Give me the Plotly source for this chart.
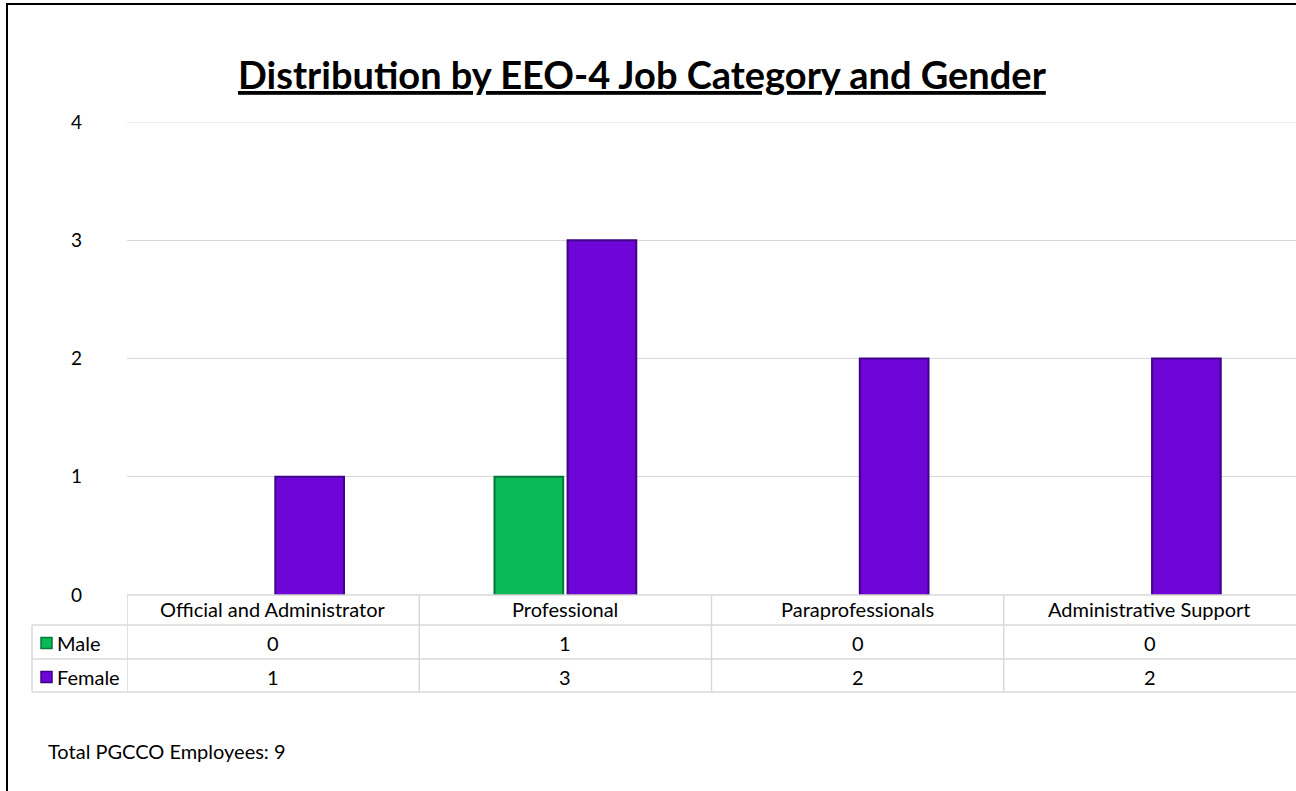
import plotly.graph_objects as go

# Data
categories = ["Official and Administrator", "Professional", "Paraprofessionals", "Administrative Support"]
male = [0, 1, 0, 0]
female = [1, 3, 2, 2]
series_names = ["Male", "Female"]
y_ticks = [0, 1, 2, 3, 4]
total_employees = 9

W, H = 1296, 791
L, R, T, B = 127, 0, 122, 196
plot_w = W - L - R
plot_h = H - T - B

GREEN = "#0bb957"
GREEN_EDGE = "#06773a"
PURPLE = "#6f06d8"
PURPLE_EDGE = "#3f0388"
GRID = "#d9d9d9"
FONT = "Lato"
TXT = 20


def px_x(px):
    return (px - L) / plot_w


def px_y(py):
    return (H - B - py) / plot_h


def edge_widths(values):
    # no outline on empty bars so nothing shows on the baseline
    return [2 if v else 0 for v in values]


x_idx = list(range(len(categories)))

fig = go.Figure()
fig.add_trace(go.Bar(x=x_idx, y=male, name=series_names[0],
                     marker=dict(color=GREEN, line=dict(color=GREEN_EDGE, width=edge_widths(male)))))
fig.add_trace(go.Bar(x=x_idx, y=female, name=series_names[1],
                     marker=dict(color=PURPLE, line=dict(color=PURPLE_EDGE, width=edge_widths(female)))))

fig.update_layout(
    width=W, height=H,
    margin=dict(l=L, r=R, t=T, b=B, pad=0),
    paper_bgcolor="white", plot_bgcolor="white",
    barmode="group", bargap=0.5, bargroupgap=0.06,
    showlegend=False,
    font=dict(family=FONT, size=TXT, color="#000000"),
)
fig.update_xaxes(range=[-0.5, len(categories) - 0.5], showticklabels=False, showgrid=False,
                 zeroline=False, showline=False, ticks="")
fig.update_yaxes(range=[y_ticks[0], y_ticks[-1]], tickvals=y_ticks, showgrid=True, gridcolor=GRID,
                 gridwidth=1, zeroline=False, showline=False, ticks="", ticklabelstandoff=44,
                 tickfont=dict(family=FONT, size=19, color="#000000"))

shapes = []
annotations = []

# top gridline at the axis maximum
shapes.append(dict(type="line", xref="paper", yref="y", x0=0, x1=1, y0=y_ticks[-1], y1=y_ticks[-1],
                   line=dict(color=GRID, width=1), layer="below"))


def cell_text(x, xref, py, text, xanchor="center"):
    annotations.append(dict(x=x, y=px_y(py), xref=xref, yref="paper", text=text,
                            xanchor=xanchor, yanchor="middle", showarrow=False,
                            font=dict(family=FONT, size=TXT, color="#000000")))


# Data table grid
y_header_top, y_male_top, y_female_top, y_bottom = 595, 625, 659, 692
line_style = dict(color=GRID, width=1.5)
shapes.append(dict(type="line", xref="paper", yref="paper", x0=px_x(127), x1=1.0,
                   y0=px_y(y_header_top), y1=px_y(y_header_top), line=line_style))
for py in (y_male_top, y_female_top, y_bottom):
    shapes.append(dict(type="line", xref="paper", yref="paper", x0=px_x(32), x1=1.0,
                       y0=px_y(py), y1=px_y(py), line=line_style))
shapes.append(dict(type="line", xref="paper", yref="paper", x0=px_x(32), x1=px_x(32),
                   y0=px_y(y_male_top), y1=px_y(y_bottom), line=line_style))
for i in range(len(categories)):
    shapes.append(dict(type="line", xref="x", yref="paper", x0=i - 0.5, x1=i - 0.5,
                       y0=px_y(y_header_top), y1=px_y(y_bottom), line=line_style))

# Category headers and values
for i, cat in enumerate(categories):
    cell_text(i, "x", 609, cat)
    cell_text(i, "x", 643, str(male[i]))
    cell_text(i, "x", 677, str(female[i]))

# Row headers with legend keys
for name, color, edge, cy in ((series_names[0], GREEN, GREEN_EDGE, 643),
                              (series_names[1], PURPLE, PURPLE_EDGE, 677)):
    shapes.append(dict(type="rect", xref="paper", yref="paper", x0=px_x(41), x1=px_x(52),
                       y0=px_y(cy + 5.5), y1=px_y(cy - 5.5), fillcolor=color,
                       line=dict(color=edge, width=1.5)))
    cell_text(px_x(55), "paper", cy, name, xanchor="left")

# Title
annotations.append(dict(x=px_x(642), y=px_y(74), xref="paper", yref="paper",
                        xanchor="center", yanchor="middle",
                        text="<b><u>Distribution by EEO-4 Job Category and Gender</u></b>",
                        showarrow=False, font=dict(family=FONT, size=38, color="#000000")))

# Footer
annotations.append(dict(x=px_x(46), y=px_y(751), xref="paper", yref="paper",
                        xanchor="left", yanchor="middle",
                        text=f"Total PGCCO Employees: {total_employees}", showarrow=False,
                        font=dict(family=FONT, size=TXT, color="#000000")))

# Outer frame
shapes.append(dict(type="rect", xref="paper", yref="paper", x0=px_x(7), x1=px_x(W + 10),
                   y0=px_y(H + 10), y1=px_y(4), line=dict(color="#000000", width=2),
                   fillcolor="rgba(0,0,0,0)", layer="above"))

fig.update_layout(shapes=shapes, annotations=annotations)
fig.write_html("out.html")
